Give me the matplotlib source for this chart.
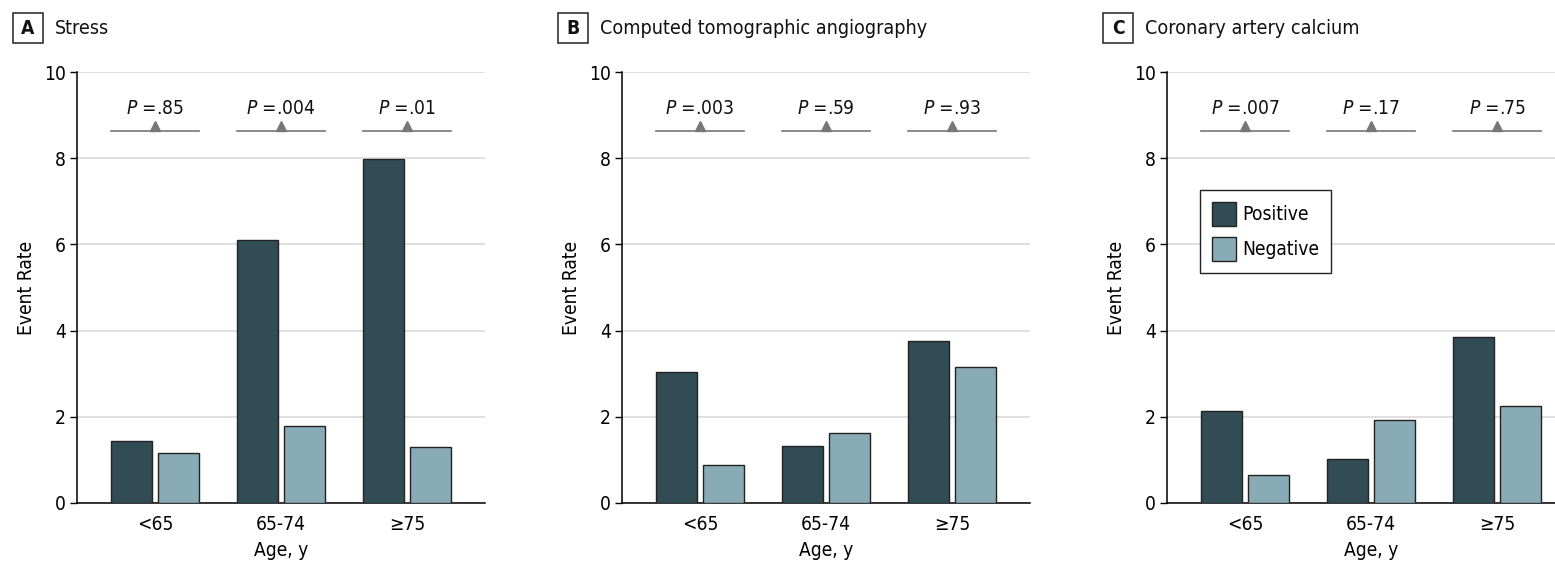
import numpy as np
import matplotlib
matplotlib.use("Agg")
import matplotlib.pyplot as plt
from matplotlib.patches import Rectangle, Patch

plt.rcParams['font.family'] = ['DejaVu Sans']
plt.rcParams['font.stretch'] = 'condensed'
plt.rcParams['mathtext.fontset'] = 'custom'
plt.rcParams['mathtext.rm'] = 'DejaVu Sans:stretch=condensed'
plt.rcParams['mathtext.it'] = 'DejaVu Sans:style=italic:stretch=condensed'

ages = ["<65", "65-74", "\u226575"]
panel_letters = ["A", "B", "C"]
panel_titles = ["Stress", "Computed tomographic angiography", "Coronary artery calcium"]

stress_pos = [1.43, 6.10, 7.98]
stress_neg = [1.15, 1.79, 1.29]
cta_pos = [3.04, 1.32, 3.76]
cta_neg = [0.88, 1.63, 3.16]
cac_pos = [2.14, 1.01, 3.85]
cac_neg = [0.65, 1.93, 2.25]

stress_p = [".85", ".004", ".01"]
cta_p = [".003", ".59", ".93"]
cac_p = [".007", ".17", ".75"]

positives = [stress_pos, cta_pos, cac_pos]
negatives = [stress_neg, cta_neg, cac_neg]
pvalues = [stress_p, cta_p, cac_p]

dark = "#324c56"
light = "#88abb6"
edge = "#222222"
fs = 13.8

W, H = 1555, 569
fig = plt.figure(figsize=(W / 100, H / 100), dpi=100)

x = np.arange(len(ages))
bw = 0.325
off = 0.187
line_y = 8.63

for i in range(3):
    left = 77 + 545 * i
    ax = fig.add_axes([left / W, 66 / H, 408 / W, 431 / H])
    ax.bar(x - off, positives[i], bw, color=dark, edgecolor=edge, linewidth=1, label="Positive", zorder=3)
    ax.bar(x + off, negatives[i], bw, color=light, edgecolor=edge, linewidth=1, label="Negative", zorder=3)
    for j in range(3):
        ax.plot([x[j] - off - bw / 2, x[j] + off + bw / 2], [line_y, line_y], color="#777777", lw=1.2, zorder=3)
        ax.plot([x[j]], [line_y + 0.12], marker="^", markersize=7.5, color="#777777", zorder=4)
        ax.text(x[j], 9.15, r"$\it{P}$ =" + pvalues[i][j], ha="center", va="center", fontsize=fs, color="#111111")
    ax.set_xlim(-0.62, 2.62)
    ax.set_ylim(0, 10)
    ax.set_yticks([0, 2, 4, 6, 8, 10])
    ax.set_xticks(x)
    ax.set_xticklabels(ages)
    ax.tick_params(axis="x", length=0, pad=9, labelsize=fs)
    ax.tick_params(axis="y", length=5, width=1, pad=3, labelsize=fs)
    ax.grid(axis="y", color="#dddddd", lw=1.3, zorder=0)
    ax.set_axisbelow(True)
    for s in ["top", "right"]:
        ax.spines[s].set_visible(False)
    ax.spines["left"].set_linewidth(1.1)
    ax.spines["bottom"].set_linewidth(1.1)
    ax.set_xlabel("Age, y", fontsize=fs, labelpad=5)
    ax.set_ylabel("Event Rate", fontsize=fs, labelpad=6)

    # panel label
    bx = 13 + 545 * i
    fig.patches.append(Rectangle((bx / W, (H - 43) / H), 30 / W, 30 / H, transform=fig.transFigure,
                                 fill=False, edgecolor="#222222", lw=1.1))
    fig.text((bx + 15) / W, (H - 28) / H, panel_letters[i], ha="center", va="center",
             fontsize=fs, fontweight="bold", color="#111111")
    fig.text((bx + 42) / W, (H - 28) / H, panel_titles[i], ha="left", va="center", fontsize=fs + 0.3, color="#111111")

    if i == 2:
        handles = [Patch(facecolor=dark, edgecolor=edge, label="Positive"),
                   Patch(facecolor=light, edgecolor=edge, label="Negative")]
        leg = ax.legend(handles=handles, loc="upper left", bbox_to_anchor=(0.081, 0.726), borderaxespad=0,
                        fancybox=False, edgecolor="#222222", fontsize=fs, handlelength=1.25, handleheight=1.6,
                        borderpad=0.6, labelspacing=0.55, handletextpad=0.35, framealpha=1)
        leg.get_frame().set_linewidth(1.0)

fig.savefig("out.png", dpi=100)
